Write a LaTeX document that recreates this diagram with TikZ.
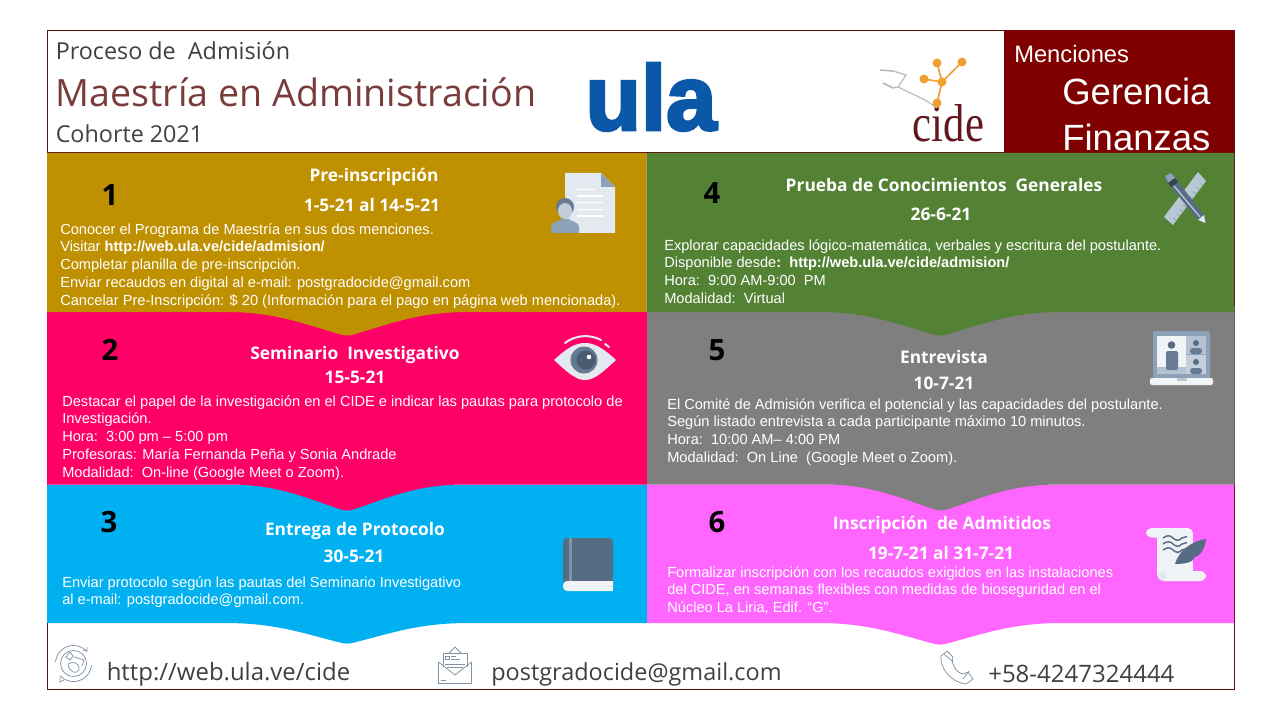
\documentclass[tikz,border=0pt]{standalone}
\usepackage{fontspec}
\setmainfont{Liberation Sans}
\newfontfamily\seg{Open Sans}
\newfontfamily\serifl{Liberation Serif}
\usetikzlibrary{calc}
\definecolor{gold}{HTML}{BF9000}
\definecolor{leaf}{HTML}{548235}
\definecolor{rose}{HTML}{FF0066}
\definecolor{slate}{HTML}{7F7F7F}
\definecolor{sky}{HTML}{00B0F0}
\definecolor{orchid}{HTML}{FF66FF}
\definecolor{maroon}{HTML}{7F0000}
\definecolor{edge}{HTML}{5C1010}
\definecolor{inkg}{HTML}{404040}
\definecolor{titlered}{HTML}{7A3B3B}
\definecolor{ic}{HTML}{E4E9EF}
\definecolor{icm}{HTML}{8DA2B8}
\definecolor{icd}{HTML}{566C85}
\definecolor{line}{HTML}{7F93A5}
\definecolor{dotc}{HTML}{F0A030}
\tikzset{
 x=0.75pt,y=-0.75pt,
 body/.style={anchor=north west,inner sep=0pt,align=left,text=white,font=\fontsize{10.96}{13.45}\selectfont},
 head/.style={inner sep=0pt,text=white,font=\seg\bfseries\fontsize{13}{15}\selectfont},
 num/.style={inner sep=0pt,text=black,font=\seg\bfseries\fontsize{22}{24}\selectfont},
 foot/.style={anchor=west,inner sep=0pt,text=inkg,font=\seg\fontsize{17.8}{20}\selectfont},
 hdr/.style={anchor=west,inner sep=0pt,text=inkg,font=\seg\fontsize{17.5}{20}\selectfont},
 men/.style={anchor=west,inner sep=0pt,text=white},
 thin line/.style={draw=line,line width=0.55pt,fill=none},
}
% args: colour, x0, x1, ytop, ybot, xtip, depth, half width
\newcommand\panel[8]{%
 \fill[#1] (#2,#4) -- (#3,#4) -- (#3,#5) -- ($(#6,#5)+(#8,0)$)
  .. controls ($(#6,#5)+(#8*0.6,0)$) and ($(#6,#5)+(#8*0.38,#7*0.45)$) .. ($(#6,#5)+(8,#7*0.92)$)
  .. controls ($(#6,#5)+(3,#7)$) and ($(#6,#5)+(-3,#7)$) .. ($(#6,#5)+(-8,#7*0.92)$)
  .. controls ($(#6,#5)+(-#8*0.38,#7*0.45)$) and ($(#6,#5)+(-#8*0.6,0)$) .. ($(#6,#5)+(-#8,0)$)
  -- (#2,#5) -- cycle;}
\begin{document}
\begin{tikzpicture}
\useasboundingbox (0,0) rectangle (1280,720);
\fill[white] (0,0) rectangle (1280,720);
% frame + header
\draw[edge,line width=0.6pt] (47,30) rectangle (1234,689);
\fill[maroon] (1004,30) rectangle (1234,153);
\draw[edge,line width=0.8pt] (47,153) -- (1004,153);
% panels, bottom row first so that upper points lie over lower panels
\panel{sky}{47}{647}{484.5}{623}{347}{21}{122}
\panel{orchid}{647}{1234}{484.5}{623}{940}{22}{122}
\panel{rose}{47}{647}{312}{484.5}{347}{26.5}{118}
\panel{slate}{647}{1234.7}{306}{484.5}{941}{26.5}{118}
\panel{gold}{47}{646.5}{153}{312}{347}{24}{122}
\panel{leaf}{646.5}{1234}{153}{312}{940}{24}{122}

% header text
\node[hdr] (t1) at (55.5,51) {Proceso de\ \ Admisión};
\node[hdr,text=titlered,font=\seg\fontsize{28.2}{30}\selectfont] (t2) at (55.5,92) {Maestría en Administración};
\node[hdr] (t3) at (55.5,134) {Cohorte 2021};
\node[men,font=\fontsize{17.8}{20}\selectfont] (m0) at (1014,54) {Menciones};
\node[men,font=\fontsize{27.4}{30}\selectfont] (m1) at (1062,91) {Gerencia};
\node[men,font=\fontsize{27.4}{30}\selectfont] (m2) at (1062,137) {Finanzas};

% logos
\node[inner sep=0pt,text={rgb,255:red,11;green,88;blue,168},font=\bfseries\fontsize{69}{72}\selectfont,xscale=0.985] (ulat) at (651,97) {\special{pdf:literal 2 Tr 2.2 w}ula\special{pdf:literal 0 Tr 0 w}};
\node[inner sep=0pt,text={rgb,255:red,100;green,22;blue,30},font=\serifl\fontsize{40}{42}\selectfont,xscale=0.8] (cide) at (948.5,123) {cide};
\draw[gray!55,line width=1.2pt] (880,70) -- (893,71) (883,83) -- (893,88);
\draw[gray!55,line width=0.9pt] (893,71) -- (906,75) -- (898,87) -- (893,88) (898,87) -- (925,100) -- (937,108);
\draw[dotc,line width=1.2pt] (937,103) -- (942,82) -- (937,63) (924,79) -- (942,82) -- (962,62);
\fill[dotc] (937,103) circle (4.5) (942,82) circle (4.5) (924,79) circle (4.5) (937,63) circle (4.5) (962,62) circle (4.5);

% numbers
\node[num] (n1) at (110,195) {1};
\node[num] (n2) at (110,350) {2};
\node[num] (n3) at (109,522) {3};
\node[num] (n4) at (712,193) {4};
\node[num] (n5) at (717,350) {5};
\node[num] (n6) at (717,522) {6};

% panel 1
\node[head] (h1a) at (374,177) {Pre-inscripción};
\node[head] (h1b) at (372,205) {1-5-21 al 14-5-21};
\node[body] (b1) at (60,223) {Conocer el Programa de Maestría en sus dos menciones.\\
Visitar \textbf{http://web.ula.ve/cide/admision/}\\
Completar planilla de pre-inscripción.\\
Enviar recaudos en digital al e-mail: postgradocide@gmail.com\\
Cancelar Pre-Inscripción: \$ 20 (Información para el pago en página web mencionada).};
% panel 2
\node[head] (h2a) at (355,354.5) {Seminario\ \ Investigativo};
\node[head] (h2b) at (355,377.5) {15-5-21};
\node[body] (b2) at (62,395) {Destacar el papel de la investigación en el CIDE e indicar las pautas para protocolo de\\
Investigación.\\
Hora:\ \ 3:00 pm -- 5:00 pm\\
Profesoras: María Fernanda Peña y Sonia Andrade\\
Modalidad:\ \ On-line (Google Meet o Zoom).};
% panel 3
\node[head] (h3a) at (355,530.5) {Entrega de Protocolo};
\node[head] (h3b) at (354,556.5) {30-5-21};
\node[body] (b3) at (62,576) {Enviar protocolo según las pautas del Seminario Investigativo\\
al e-mail: postgradocide@gmail.com.};
% panel 4
\node[head] (h4a) at (944,185.5) {Prueba de Conocimientos\ \ Generales};
\node[head] (h4b) at (941,214.5) {26-6-21};
\node[body] (b4) at (664,239) {Explorar capacidades lógico-matemática, verbales y escritura del postulante.\\
Disponible desde\textbf{:\ \ http://web.ula.ve/cide/admision/}\\
Hora:\ \ 9:00 AM-9:00\ \ PM\\
Modalidad:\ \ Virtual};
% panel 5
\node[head] (h5a) at (944,356.5) {Entrevista};
\node[head] (h5b) at (944,383.5) {10-7-21};
\node[body] (b5) at (667,398) {El Comité de Admisión verifica el potencial y las capacidades del postulante.\\
Según listado entrevista a cada participante máximo 10 minutos.\\
Hora:\ \ 10:00 AM-- 4:00 PM\\
Modalidad:\ \ On Line\ \ (Google Meet o Zoom).};
% panel 6
\node[head] (h6a) at (942,524.5) {Inscripción\ \ de Admitidos};
\node[head] (h6b) at (941,552.5) {19-7-21 al 31-7-21};
\node[body] (b6) at (667,566) {Formalizar inscripción con los recaudos exigidos en las instalaciones\\
del CIDE, en semanas flexibles con medidas de bioseguridad en el\\
Núcleo La Liria, Edif. “G”.};

% footer text
\node[foot,font=\seg\fontsize{17.95}{20}\selectfont] (f1) at (106.5,674) {http://web.ula.ve/cide};
\node[foot,font=\seg\fontsize{17.6}{20}\selectfont] (f2) at (491,674) {postgradocide@gmail.com};
\node[foot,font=\seg\fontsize{18}{20}\selectfont] (f3) at (988,674) {+58-4247324444};

%--- icon: document & person
\fill[ic] (565,173) -- (601,173) -- (615,187) -- (615,233) -- (565,233) -- cycle;
\fill[icm] (601,173) -- (615,187) -- (601,187) -- cycle;
\draw[white,line width=0.9pt] (577,189.5) -- (595,189.5) (577,196) -- (603,196) (577,202.5) -- (603,202.5) (577,209.5) -- (603,209.5) (577,216) -- (603,216);
\fill[icm] (551,233) -- (551,227) .. controls (551,222) and (558,222) .. (561,219) -- (569,219) .. controls (572,222) and (579,222) .. (579,227) -- (579,233) -- cycle;
\fill[icd!90] (565,207) circle (9);
\fill[ic!60!icm] (565,211) ellipse (7 and 8);
%--- icon: eye
\fill[ic] (554,360) .. controls (568,347) and (576,343) .. (585,343) .. controls (594,343) and (602,347) .. (616,360) .. controls (602,373) and (594,380) .. (585,380) .. controls (576,380) and (568,373) .. (554,360) -- cycle;
\fill[icd!75!icm] (584,360) circle (13.5);
\fill[icd!85!black] (586,360) circle (9.5);
\fill[white] (589,357) circle (2.3);
\draw[ic,line width=1.5pt,line cap=round] (565,343) .. controls (575,335) and (590,334) .. (601,340);
\draw[ic,line width=1.5pt,line cap=round] (605,344) -- (609,347);
%--- icon: ruler & pencil
\fill[icm!50!ic] (1198,172) -- (1206,181) -- (1173,225) -- (1164,217) -- cycle;
\foreach \t in {0.1,0.2,...,0.9}{\draw[icm,line width=0.5pt] ($(1206,181)!\t!(1173,225)$) -- ++(-3,-2.6);}
\fill[icd] (1164,178) -- (1171,173) -- (1204,215) -- (1205.5,223) -- (1198,220) -- cycle;
\fill[icm] (1165,176) -- (1171,173) -- (1176,179) -- (1169,184) -- cycle;
\fill[icd!60!black] (1168,183) -- (1175,178) -- (1178,182) -- (1171,187) -- cycle;
\draw[icm!50!ic,line width=1pt] (1174,186) -- (1200,217);
\fill[ic] (1198,220) -- (1204,215) -- (1205.5,223) -- cycle;
%--- icon: laptop
\fill[icm,rounded corners=1.5pt] (1153,331) rectangle (1210,379);
\fill[ic!50!white] (1157,336) rectangle (1186,374);
\fill[icm!55!ic] (1186,336) rectangle (1206,354);
\fill[icm!35!ic] (1186,355) rectangle (1206,374);
\fill[icm!55!ic] (1157,367) rectangle (1186,374);
\fill[icd] (1171.5,345) circle (3.8);
\fill[icd!70!icm,rounded corners=1pt] (1166,351) rectangle (1178,370);
\fill[icd] (1196,343) circle (3);
\fill[icd!70!icm,rounded corners=2pt] (1190,348) rectangle (1202,354);
\fill[icd] (1196,362) circle (3);
\fill[icd!70!icm,rounded corners=2pt] (1190,368) rectangle (1202,374);
\fill[ic!50!white,rounded corners=1.5pt] (1150,378) rectangle (1213,385);
\fill[icm!50!ic] (1177,378) rectangle (1187,381);
%--- icon: book
\fill[icd,rounded corners=3pt] (563,585) -- (563,538) -- (613,538) -- (613,585) -- cycle;
\fill[icm!75!icd] (569,538) rectangle (572,581);
\fill[ic!50!white] (613,581) -- (568,581) .. controls (561,581) and (561,591) .. (568,591) -- (613,591) -- cycle;
\draw[ic,line width=0.5pt] (566,586) -- (613,586);
%--- icon: scroll
\fill[ic!55!white] (1157,532) rectangle (1193,576);
\fill[ic!55!white,rounded corners=4pt] (1146,528) rectangle (1193,537.5);
\fill[ic!55!white,rounded corners=4.5pt] (1158,571) rectangle (1206,581);
\fill[ic] (1162,576) circle (4.5);
\foreach \yy in {538,544,550}{
 \draw[icd,line width=1.1pt] (1163,\yy) .. controls (1167,\yy-3) and (1170,\yy-3) .. (1173,\yy) .. controls (1176,\yy+3) and (1179,\yy+3) .. (1182,\yy) -- (1187,\yy-1.5);}
\fill[icd] (1175,564) .. controls (1179,550) and (1192,541) .. (1206,539) .. controls (1205,549) and (1200,556) .. (1195,557) .. controls (1193,562) and (1186,564) .. (1175,564) -- cycle;
%--- icon: globe
\draw[thin line] (73.5,663.5) circle (13);
\draw[thin line] plot[domain=-175:-42,samples=30] ({73.5+18*cos(\x)},{663.5+18*sin(\x)});
\draw[thin line] plot[domain=5:138,samples=30] ({73.5+18*cos(\x)},{663.5+18*sin(\x)});
\draw[thin line] (83,650) -- (87,651) -- (87,647) (60,677) -- (60,682) -- (64,680);
\draw[thin line] (70,652) -- (73,656) -- (70,660) -- (66,657) -- cycle (68,664) .. controls (72,661) and (80,662) .. (79,670) .. controls (76,675) and (69,672) .. (68,664) (74,657) -- (84,660) -- (82,666);
%--- icon: envelope
\draw[thin line] (438.5,662) -- (438.5,683) -- (471.5,683) -- (471.5,662);
\draw[thin line] (438.5,662) -- (455,675) -- (471.5,662);
\draw[thin line] (443,667) -- (443,653) -- (467,653) -- (467,667);
\draw[thin line] (449,653) -- (455,647) -- (461,653);
\draw[thin line] (445,656) rectangle (449,659);
\draw[thin line] (451,656) -- (456,656) (451,659) -- (460,659) (445,664) -- (465,664) (447,667) -- (463,667);
\draw[thin line] (441,680) -- (446,680);
%--- icon: phone
\draw[thin line] (947,651) -- (941,656) .. controls (940,668) and (950,682) .. (966,684) -- (973,679) -- (968,672) -- (963,674) .. controls (958,674) and (950,664) .. (953,657) -- (947,651) -- cycle;
\draw[thin line] (944,654) -- (952,661) (963,679) -- (969,671);
\end{tikzpicture}
\end{document}
